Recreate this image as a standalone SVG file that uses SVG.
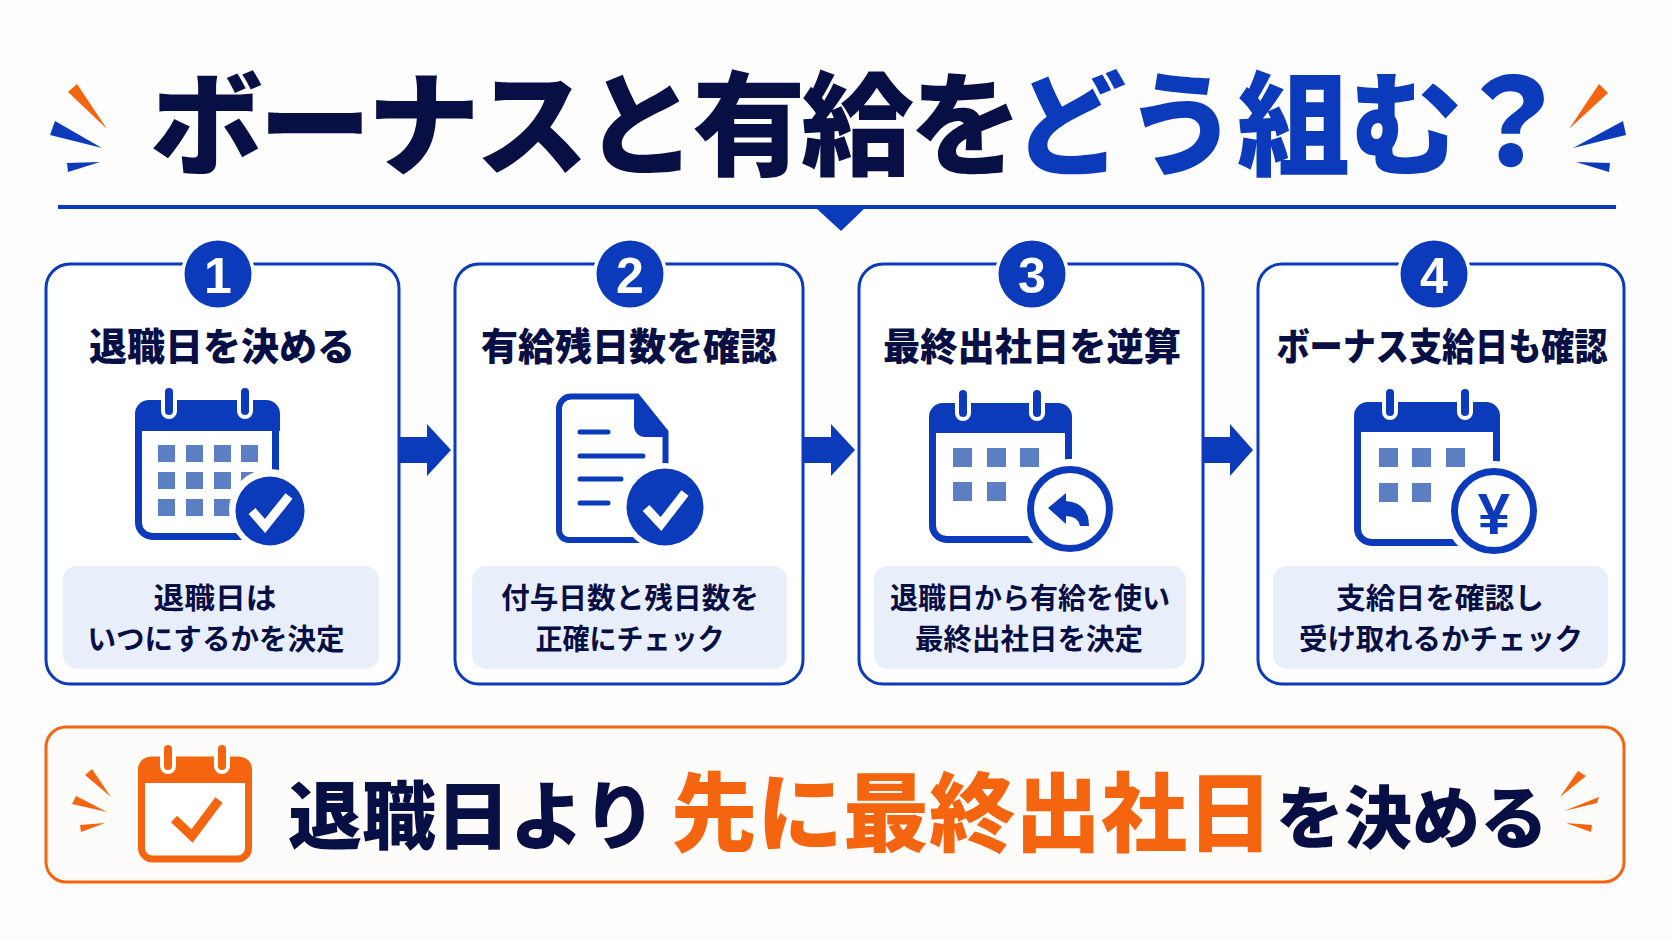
<svg xmlns="http://www.w3.org/2000/svg" width="1672" height="941" viewBox="0 0 1672 941">
<style>
text{font-family:"Noto Sans CJK JP","Noto Sans",sans-serif;fill:#080f45;text-anchor:middle}
.b{fill:#0b3bbb}.o{fill:#f5650f}
.title{font-size:113px;font-weight:900;text-anchor:start}
.bottom{font-weight:900;text-anchor:start}
.head{font-size:38px;font-weight:900}
.cap{font-size:29px;font-weight:700}
.num{font-family:"Liberation Sans",sans-serif;font-size:50px;font-weight:700;fill:#fff}
.card{fill:#fff;stroke:#0b3bbb;stroke-width:3}
.panel{fill:#e9effa}
.cell{fill:#5b7fc2}
.cal{fill:#fff;stroke:#0b3bbb;stroke-width:7}
.hdr{fill:#0b3bbb}
.ring{fill:#0b3bbb;stroke:#fff;stroke-width:4}
.halo{fill:#fff}
.chk{fill:none;stroke:#fff;stroke-width:9;stroke-linecap:butt;stroke-linejoin:miter}
.ln{stroke:#0b3bbb;stroke-width:5;stroke-linecap:round}
</style>
<rect width="1672" height="941" fill="#fdfdfe"/>
<g id="title">
<polygon class="o" points="68,92 77,84 107,129"/><polygon class="b" points="55,121 50,135 102,148"/><polygon class="b" points="67,163 68,172 100,162"/>
<polygon class="o" points="1599,84 1608,93 1569,129"/><polygon class="b" points="1623,121 1626,135 1573,148"/><polygon class="b" points="1576,162 1610,163 1609,172"/>
<text class="title" y="166"><tspan x="150" letter-spacing="-4.5">ボーナスと有給を</tspan><tspan class="b" x="1013" letter-spacing="-1">どう組む</tspan><tspan class="b" x="1452" font-size="120">？</tspan></text>
<rect x="58" y="205" width="1558" height="4" fill="#0b3bbb"/>
<polygon class="b" points="816,208 865,208 841,231"/>
</g>
<g id="connectors">
<polygon class="b" points="399,437 427,437 427,424 451,450 427,476 427,463 399,463"/>
<polygon class="b" points="803,437 831,437 831,424 855,450 831,476 831,463 803,463"/>
<polygon class="b" points="1204,437 1230,437 1230,424 1253,450 1230,476 1230,463 1204,463"/>
</g>
<g id="step1">
<rect class="card" x="46" y="264" width="353" height="420" rx="24"/>
<circle class="halo" cx="218" cy="274" r="37"/><circle class="hdr" cx="218" cy="274" r="33.5"/>
<text class="num" x="218" y="293">1</text>
<text class="head" x="222" y="360" textLength="266" lengthAdjust="spacingAndGlyphs">退職日を決める</text>
<rect class="cal" x="138.500" y="403.500" width="137" height="133" rx="14"/>
<path class="hdr" d="M135 431V414a14 14 0 0 1 14-14H266a14 14 0 0 1 14 14V431Z"/>
<rect class="ring" x="163" y="386" width="12" height="31" rx="6"/><rect class="ring" x="239" y="386" width="12" height="31" rx="6"/>
<g class="cell"><rect x="158" y="445" width="17" height="17"/><rect x="186" y="445" width="17" height="17"/><rect x="214" y="445" width="17" height="17"/><rect x="241" y="445" width="17" height="17"/><rect x="158" y="472" width="17" height="17"/><rect x="186" y="472" width="17" height="17"/><rect x="214" y="472" width="17" height="17"/><rect x="241" y="472" width="17" height="17"/><rect x="158" y="499" width="17" height="17"/><rect x="186" y="499" width="17" height="17"/><rect x="214" y="499" width="17" height="17"/></g>
<circle class="halo" cx="270" cy="510" r="41"/><circle class="hdr" cx="270" cy="511" r="34.500"/>
<path class="chk" d="M252 511L265 526L289 496"/>
<rect class="panel" x="63" y="566" width="316" height="103" rx="14"/>
<text class="cap" x="215" y="609" textLength="123" lengthAdjust="spacingAndGlyphs">退職日は</text>
<text class="cap" x="216" y="650" textLength="257" lengthAdjust="spacingAndGlyphs">いつにするかを決定</text>
</g>
<g id="step2">
<rect class="card" x="455" y="264" width="348" height="420" rx="24"/>
<circle class="halo" cx="630" cy="274" r="37"/><circle class="hdr" cx="630" cy="274" r="33.5"/>
<text class="num" x="630" y="293">2</text>
<text class="head" x="629" y="360" textLength="296" lengthAdjust="spacingAndGlyphs">有給残日数を確認</text>
<path d="M571 396.500H637L665.500 432V530a10 10 0 0 1-10 10H569a10 10 0 0 1-10-10V408.500a12 12 0 0 1 12-12Z" fill="#fff" stroke="#0b3bbb" stroke-width="6"/>
<path class="hdr" d="M634 394L668 432V437H645a11 11 0 0 1-11-11Z"/>
<g class="ln"><line x1="580" y1="432" x2="608" y2="432"/><line x1="580" y1="456" x2="643" y2="456"/><line x1="580" y1="479" x2="621" y2="479"/><line x1="580" y1="503" x2="608" y2="503"/></g>
<circle class="halo" cx="665" cy="507" r="44"/><circle class="hdr" cx="665" cy="507" r="38.500"/>
<path class="chk" d="M646 508L661 524L685 493" stroke-width="10"/>
<rect class="panel" x="472" y="566" width="315" height="103" rx="14"/>
<text class="cap" x="630" y="609" textLength="258" lengthAdjust="spacingAndGlyphs">付与日数と残日数を</text>
<text class="cap" x="630" y="650" textLength="189" lengthAdjust="spacingAndGlyphs">正確にチェック</text>
</g>
<g id="step3">
<rect class="card" x="859" y="264" width="344" height="420" rx="24"/>
<circle class="halo" cx="1032" cy="274" r="37"/><circle class="hdr" cx="1032" cy="274" r="33.5"/>
<text class="num" x="1032" y="293">3</text>
<text class="head" x="1032" y="360" textLength="298" lengthAdjust="spacingAndGlyphs">最終出社日を逆算</text>
<rect class="cal" x="932.500" y="406.500" width="136" height="133" rx="14"/>
<path class="hdr" d="M929 433V417a14 14 0 0 1 14-14H1058a14 14 0 0 1 14 14V433Z"/>
<rect class="ring" x="957" y="388" width="12" height="31" rx="6"/><rect class="ring" x="1031" y="388" width="12" height="31" rx="6"/>
<g class="cell"><rect x="953" y="448" width="19" height="19"/><rect x="987" y="448" width="19" height="19"/><rect x="1020" y="448" width="19" height="19"/><rect x="953" y="482" width="19" height="19"/><rect x="987" y="482" width="19" height="19"/></g>
<circle class="halo" cx="1070" cy="509" r="50"/><circle cx="1070" cy="509" r="39.500" fill="#fff" stroke="#0b3bbb" stroke-width="7"/>
<path class="hdr" d="M1048 508L1066 493V501Q1089 503 1089 526H1080Q1078 516 1066 516V524Z"/>
<rect class="panel" x="874" y="566" width="312" height="103" rx="14"/>
<text class="cap" x="1030" y="609" textLength="280" lengthAdjust="spacingAndGlyphs">退職日から有給を使い</text>
<text class="cap" x="1029" y="650" textLength="228" lengthAdjust="spacingAndGlyphs">最終出社日を決定</text>
</g>
<g id="step4">
<rect class="card" x="1258" y="264" width="366" height="420" rx="24"/>
<circle class="halo" cx="1434" cy="274" r="37"/><circle class="hdr" cx="1434" cy="274" r="33.5"/>
<text class="num" x="1434" y="293">4</text>
<text class="head" x="1442" y="360" textLength="331" lengthAdjust="spacingAndGlyphs">ボーナス支給日も確認</text>
<rect class="cal" x="1357.500" y="405.500" width="139" height="137" rx="14"/>
<path class="hdr" d="M1354 432V416a14 14 0 0 1 14-14H1486a14 14 0 0 1 14 14V432Z"/>
<rect class="ring" x="1384" y="387" width="12" height="31" rx="6"/><rect class="ring" x="1459" y="387" width="12" height="31" rx="6"/>
<g class="cell"><rect x="1379" y="448" width="19" height="19"/><rect x="1412" y="448" width="19" height="19"/><rect x="1446" y="448" width="19" height="19"/><rect x="1379" y="483" width="19" height="19"/><rect x="1412" y="483" width="19" height="19"/></g>
<circle class="halo" cx="1494" cy="511" r="50"/><circle cx="1494" cy="511" r="39.500" fill="#fff" stroke="#0b3bbb" stroke-width="7"/>
<text x="1494" y="534" style="font-family:'Liberation Sans',sans-serif;font-size:58px;font-weight:700;fill:#0b3bbb">¥</text>
<rect class="panel" x="1273" y="566" width="335" height="103" rx="14"/>
<text class="cap" x="1440" y="609" textLength="208" lengthAdjust="spacingAndGlyphs">支給日を確認し</text>
<text class="cap" x="1441" y="650" textLength="284" lengthAdjust="spacingAndGlyphs">受け取れるかチェック</text>
</g>
<g id="summary">
<rect x="46" y="727" width="1578" height="155" rx="20" fill="#fdfcfa" stroke="#f5650f" stroke-width="3"/>
<polygon class="o" points="92,769 85,775 111,797"/><polygon class="o" points="76,796 72,804 107,812"/><polygon class="o" points="80,825 81,832 105,823"/>
<polygon class="o" points="1560,797 1578,771 1586,776"/><polygon class="o" points="1599,797 1597,803 1564,811"/><polygon class="o" points="1566,823 1592,825 1591,832"/>
<rect x="141.500" y="760" width="107" height="99" rx="11" fill="#fff" stroke="#f5650f" stroke-width="7"/>
<path class="o" d="M138 783V769a12 12 0 0 1 12-12H240a12 12 0 0 1 12 12V783Z"/>
<rect x="162" y="743" width="12" height="29" rx="6" fill="#f5650f" stroke="#fff" stroke-width="4"/><rect x="216" y="743" width="12" height="29" rx="6" fill="#f5650f" stroke="#fff" stroke-width="4"/>
<path d="M174 819L192 836L219 800" fill="none" stroke="#f5650f" stroke-width="9"/>
<text class="bottom" y="843"><tspan x="288" font-size="74">退職日より</tspan><tspan class="o" x="671" font-size="86" dy="2">先に最終出社日</tspan><tspan x="1276" font-size="68" dy="-2">を決める</tspan></text>
</g>
</svg>
